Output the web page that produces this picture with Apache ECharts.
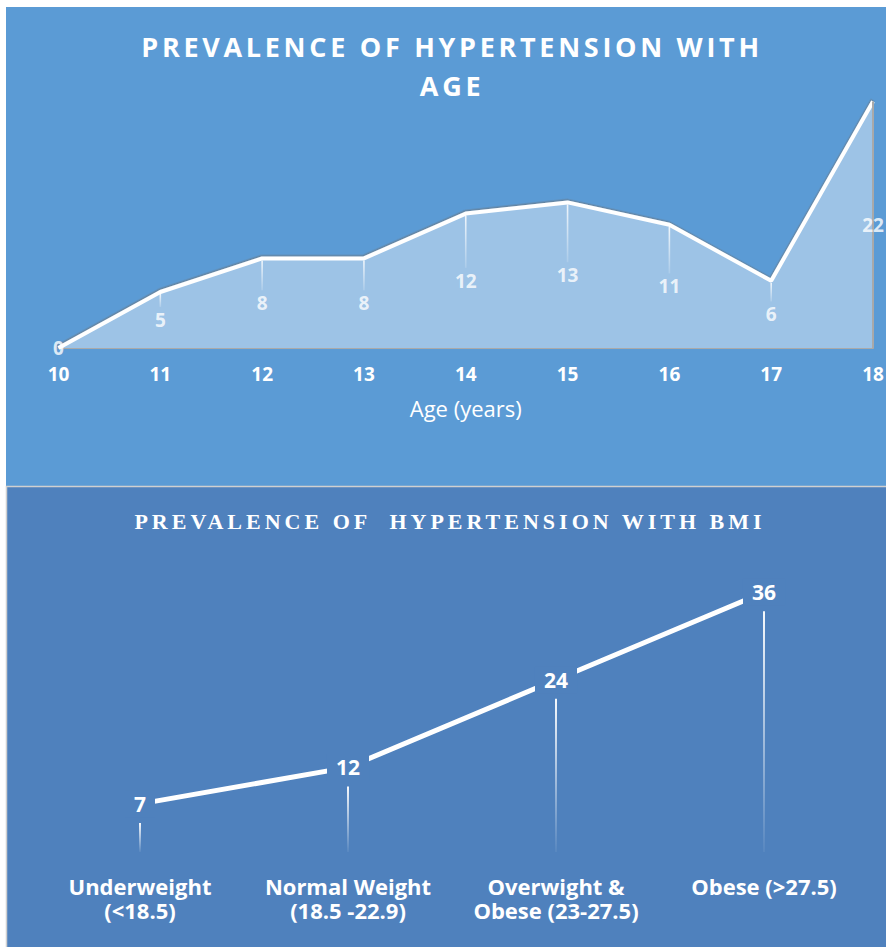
<!DOCTYPE html>
<html>
<head>
<meta charset="utf-8">
<script src="https://cdn.jsdelivr.net/npm/echarts@6/dist/echarts.min.js"></script>
<style>
  html, body { margin: 0; padding: 0; background: #ffffff; }
  #chart { width: 886px; height: 947px; }
  /* spaced-out capitals for the two headings */
  #chart text[style*="Arial"], #chart text[font-family*="Arial"] { letter-spacing: 3.7px; }
  #chart text[style*="Times New Roman"], #chart text[font-family*="Times New Roman"] { letter-spacing: 4px; }
</style>
</head>
<body>
<div id="chart"></div>
<script>
// Hypertension prevalence (%) by age
const ageCategories = ['10', '11', '12', '13', '14', '15', '16', '17', '18'];
const ageValues = [0, 5, 8, 8, 12, 13, 11, 6, 22];

// Hypertension prevalence (%) by BMI group
const bmiCategories = ['Underweight\n(<18.5)', 'Normal Weight\n(18.5 -22.9)', 'Overwight &\nObese (23-27.5)', 'Obese (>27.5)'];
const bmiValues = [7, 12, 24, 36];

const TOP_BG = '#5b9bd5';
const BOTTOM_BG = '#4f81bd';
const SANS = "'Open Sans', sans-serif";

const chart = echarts.init(document.getElementById('chart'), null, { renderer: 'svg' });

// vertical fading connector drawn as a thin rect with a gradient in page coordinates
function fadeBar(x, y0, y1, topAlpha, bottomAlpha, w) {
  if (y1 <= y0) return null;
  return {
    type: 'rect',
    shape: { x: x - w / 2, y: y0, width: w, height: y1 - y0 },
    style: {
      fill: new echarts.graphic.LinearGradient(x, y0, x, y1, [
        { offset: 0, color: 'rgba(255,255,255,' + topAlpha + ')' },
        { offset: 1, color: 'rgba(255,255,255,' + bottomAlpha + ')' }
      ], true)
    }
  };
}

const option = {
  backgroundColor: '#ffffff',
  animation: false,
  graphic: [
    { type: 'rect', z: -10, shape: { x: 6, y: 7, width: 880, height: 480 }, style: { fill: TOP_BG } },
    { type: 'rect', z: -9, shape: { x: 6.5, y: 486.5, width: 881, height: 462 },
      style: { fill: BOTTOM_BG, stroke: '#d0d0d0', lineWidth: 1.5 } },
    { type: 'text', z: 100, x: 452, y: 46,
      style: { text: 'PREVALENCE OF HYPERTENSION WITH', fill: '#ffffff',
        font: "bold 27px 'Open Sans', Arial", align: 'center', verticalAlign: 'middle',
        textAlign: 'center', textVerticalAlign: 'middle' } },
    { type: 'text', z: 100, x: 452, y: 85,
      style: { text: 'AGE', fill: '#ffffff',
        font: "bold 27px 'Open Sans', Arial", align: 'center', verticalAlign: 'middle',
        textAlign: 'center', textVerticalAlign: 'middle' } },
    { type: 'text', z: 100, x: 450, y: 521,
      style: { text: 'PREVALENCE OF  HYPERTENSION WITH BMI', fill: '#ffffff',
        font: "bold 22px 'Liberation Serif', 'Times New Roman', serif", align: 'center', verticalAlign: 'middle',
        textAlign: 'center', textVerticalAlign: 'middle' } }
  ],
  grid: [
    { left: 58.5, right: 13, top: 68, bottom: 599, outerBoundsMode: 'none' },
    { left: 36, right: 18, top: 563, bottom: 92, outerBoundsMode: 'none' }
  ],
  xAxis: [
    {
      type: 'category', gridIndex: 0, data: ageCategories, boundaryGap: false,
      axisLine: { show: true, lineStyle: { color: '#a9a9a9', width: 2 } },
      axisTick: { show: false },
      axisLabel: { color: '#ffffff', fontFamily: SANS, fontWeight: 'bold', fontSize: 19, margin: 16 },
      name: 'Age (years)', nameLocation: 'middle', nameGap: 49,
      nameTextStyle: { color: '#ffffff', fontFamily: SANS, fontSize: 22 }
    },
    {
      type: 'category', gridIndex: 1, data: bmiCategories, boundaryGap: true,
      axisLine: { show: false }, axisTick: { show: false },
      axisLabel: { color: '#ffffff', fontFamily: SANS, fontWeight: 'bold', fontSize: 22,
        lineHeight: 24, margin: 19, interval: 0 }
    }
  ],
  yAxis: [
    { type: 'value', gridIndex: 0, min: 0, max: 25, show: false, splitLine: { show: false } },
    { type: 'value', gridIndex: 1, min: 0, max: 40, show: false, splitLine: { show: false } }
  ],
  series: [
    // filled area under the age curve, with its grey right-hand edge
    {
      type: 'line', xAxisIndex: 0, yAxisIndex: 0, data: ageValues, symbol: 'none', z: 2,
      lineStyle: { width: 0 },
      areaStyle: { color: '#9dc3e6', opacity: 1 },
      markLine: {
        silent: true, symbol: 'none', label: { show: false },
        lineStyle: { color: '#a9a9a9', width: 2, type: 'solid' },
        data: [[
          { coord: [ageCategories[ageCategories.length - 1], 0] },
          { coord: [ageCategories[ageCategories.length - 1], ageValues[ageValues.length - 1]] }
        ]]
      }
    },
    // connectors from each age point down to its value label
    {
      type: 'custom', xAxisIndex: 0, yAxisIndex: 0, z: 3,
      data: ageValues.map((v, i) => [i, v]),
      renderItem: function (params, api) {
        const v = api.value(1);
        if (!v) return null;
        const top = api.coord([api.value(0), v]);
        const mid = api.coord([api.value(0), v / 2]);
        return fadeBar(top[0], top[1] + 2, mid[1] - 13, 0.85, 0.15, 1.6);
      }
    },
    // white age curve
    {
      type: 'line', xAxisIndex: 0, yAxisIndex: 0, data: ageValues, symbol: 'none', z: 4,
      lineStyle: { color: '#ffffff', width: 4, shadowColor: 'rgba(110,110,110,0.5)',
        shadowBlur: 1, shadowOffsetY: -1.5, shadowOffsetX: -0.5 }
    },
    // age value labels, set halfway between each point and the baseline
    {
      type: 'scatter', xAxisIndex: 0, yAxisIndex: 0, z: 5,
      data: ageValues.map((v, i) => [i, v / 2, v]),
      symbol: 'circle', symbolSize: 1, itemStyle: { color: 'rgba(0,0,0,0)' },
      label: { show: true, position: 'inside', formatter: p => String(p.value[2]),
        color: '#ffffff', fontFamily: SANS, fontWeight: 'bold', fontSize: 19 }
    },
    // drop lines from each BMI point to the baseline
    {
      type: 'custom', xAxisIndex: 1, yAxisIndex: 1, z: 3,
      data: bmiValues.map((v, i) => [i, v]),
      renderItem: function (params, api) {
        const top = api.coord([api.value(0), api.value(1)]);
        const base = api.coord([api.value(0), 0]);
        return fadeBar(top[0], top[1] + 19, base[1] - 3, 0.95, 0.05, 2);
      }
    },
    // white BMI line with value labels on the points
    {
      type: 'line', xAxisIndex: 1, yAxisIndex: 1, data: bmiValues, z: 4,
      symbol: 'circle', symbolSize: 1, itemStyle: { color: '#ffffff' },
      lineStyle: { color: '#ffffff', width: 5 },
      label: { show: true, position: 'inside', color: '#ffffff', fontFamily: SANS,
        fontWeight: 'bold', fontSize: 21, backgroundColor: BOTTOM_BG, padding: [3, 9] }
    }
  ]
};

chart.setOption(option);
</script>
</body>
</html>
